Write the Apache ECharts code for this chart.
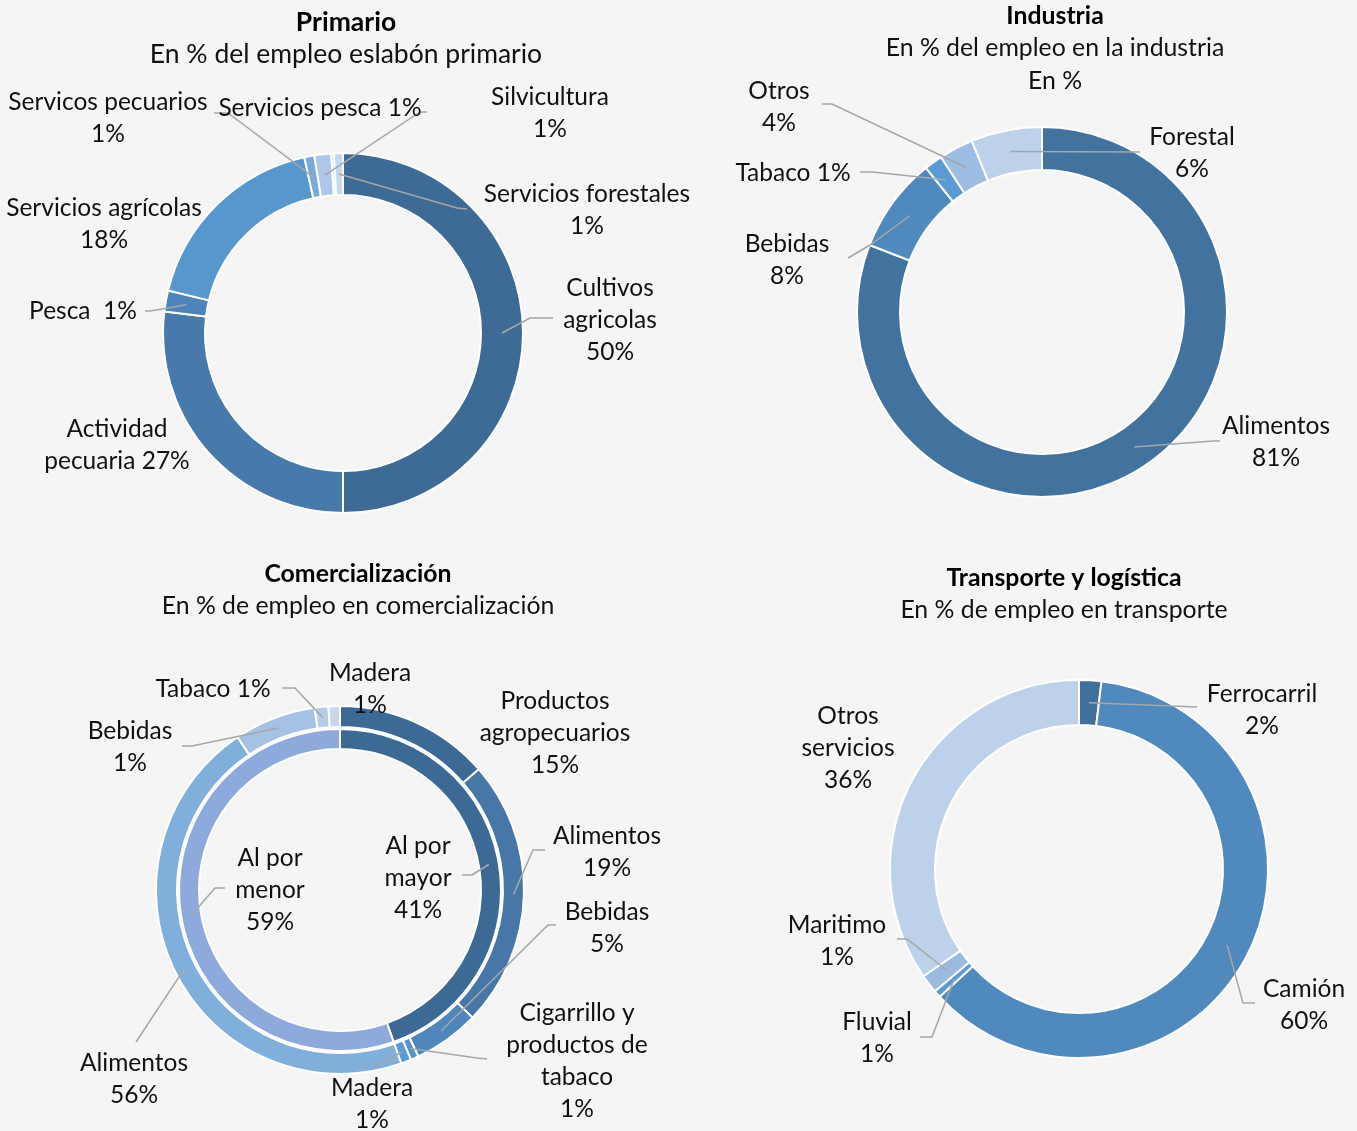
<!DOCTYPE html>
<html>
<head>
<meta charset="utf-8">
<title>Empleo por eslabón</title>
<script src="https://cdn.jsdelivr.net/npm/echarts@6/dist/echarts.min.js"></script>
<style>
    html, body { margin: 0; padding: 0; background: #f5f5f5; }
    #main { width: 1357px; height: 1131px; }
</style>
</head>
<body>
<div id="main"></div>
<script>
// Primario
var primNames = ['Cultivos agricolas', 'Actividad pecuaria', 'Pesca', 'Servicios agrícolas', 'Servicos pecuarios', 'Servicios pesca', 'Silvicultura', 'Servicios forestales'];
var primValues = [50.0, 26.9, 1.9, 17.75, 0.9, 1.5, 0.25, 0.8];
var primLabels = ['Cultivos\nagricolas\n50%', 'Actividad\npecuaria 27%', 'Pesca  1%', 'Servicios agrícolas\n18%', 'Servicos pecuarios\n1%', 'Servicios pesca 1%', 'Silvicultura\n1%', 'Servicios forestales\n1%'];

// Industria
var indNames = ['Alimentos', 'Bebidas', 'Tabaco', 'Otros', 'Forestal'];
var indValues = [80.9, 8.3, 1.6, 3.0, 6.2];
var indLabels = ['Alimentos\n81%', 'Bebidas\n8%', 'Tabaco 1%', 'Otros\n4%', 'Forestal\n6%'];

// Comercialización (anillo interior y exterior)
var comInNames = ['Al por mayor', 'Al por menor'];
var comInValues = [44.6, 55.4];
var comInLabels = ['Al por\nmayor\n41%', 'Al por\nmenor\n59%'];
var comOutNames = ['Productos agropecuarios', 'Alimentos', 'Bebidas', 'Cigarrillo y productos de tabaco', 'Madera', 'Alimentos', 'Bebidas', 'Tabaco', 'Madera'];
var comOutValues = [13.6, 23.6, 5.8, 0.7, 0.9, 46.0, 7.2, 1.2, 1.0];
var comOutLabels = ['Productos\nagropecuarios\n15%', 'Alimentos\n19%', 'Bebidas\n5%', 'Cigarrillo y\nproductos de\ntabaco\n1%', 'Madera\n1%', 'Alimentos\n56%', 'Bebidas\n1%', 'Tabaco 1%', 'Madera\n1%'];

// Transporte y logística
var traNames = ['Ferrocarril', 'Camión', 'Fluvial', 'Maritimo', 'Otros servicios'];
var traValues = [1.9, 61.3, 0.6, 1.6, 34.6];
var traLabels = ['Ferrocarril\n2%', 'Camión\n60%', 'Fluvial\n1%', 'Maritimo\n1%', 'Otros\nservicios\n36%'];

// colores por porción
var primColors = ['#3e6b96', '#477aab', '#4a84bb', '#5697cd', '#7aaad9', '#aec7e8', '#b9cfeb', '#c6d7ee'];
var indColors = ['#42739f', '#4f89bd', '#5b9bd5', '#9dbde3', '#bdd1ea'];
var comInColors = ['#3d6a94', '#8eaadc'];
var comOutColors = ['#3d6a94', '#4677a7', '#4e86bd', '#5693cb', '#5b9bd5', '#80afdc', '#a5c1e3', '#b4cce9', '#c6d7ee'];
var traColors = ['#41709c', '#4f89bd', '#5b9bd5', '#9cbae0', '#bdd1ea'];

// posición de cada etiqueta [x, y, puntos de la guía]
var primSpots = [
    [610, 320, [[530, 318], [553, 318]]],
    [117, 445, null],
    [83, 311, [[150, 311], [145, 311]]],
    [104, 224, null],
    [108, 118, [[228, 113], [214, 113]]],
    [320, 108, [[420, 112], [427, 112]]],
    [550, 113, null],
    [587, 210, [[457, 208], [467, 209]]]
];
var indSpots = [
    [1276, 442, [[1213, 441], [1220, 441]]],
    [787, 260, [[870, 245], [848, 258]]],
    [793, 173, [[872, 172], [860, 172]]],
    [779, 107, [[832, 104], [822, 104]]],
    [1192, 153, [[1140, 152]]]
];
var comInSpots = [
    [418, 878, [[472, 875], [462, 875]]],
    [270, 890, [[215, 888], [225, 888]]]
];
var comOutSpots = [
    [555, 733, null],
    [607, 852, [[533, 850], [545, 850]]],
    [607, 928, [[548, 925], [556, 925]]],
    [577, 1061, [[477, 1058], [487, 1059]]],
    [372, 1104, [[373, 1067]]],
    [134, 1079, [[136, 1042]]],
    [130, 747, [[192, 746], [182, 746]]],
    [213, 689, [[295, 688], [282, 688]]],
    [370, 689, null]
];
var traSpots = [
    [1262, 710, [[1197, 707]]],
    [1304, 1005, [[1243, 1003], [1255, 1003]]],
    [877, 1038, [[932, 1037], [920, 1037]]],
    [837, 941, [[907, 939], [897, 939]]],
    [848, 748, null]
];

var font = 'Lato, "Open Sans", sans-serif';

function pieLayout(cx, cy, rMid, values, spots) {
    var total = values.reduce(function (a, b) { return a + b; }, 0);
    return function (p) {
        var s = spots[p.dataIndex];
        var before = 0;
        for (var k = 0; k < p.dataIndex; k++) before += values[k];
        var a = (before + values[p.dataIndex] / 2) / total * Math.PI * 2;
        var out = { x: s[0], y: s[1], align: 'center', verticalAlign: 'middle' };
        if (s[2]) {
            out.labelLinePoints = [[cx + rMid * Math.sin(a), cy - rMid * Math.cos(a)]].concat(s[2]);
        }
        return out;
    };
}

// anillo de color + capa transparente encima con etiquetas y guías
function pieSeries(cx, cy, r0, r1, names, values, labels, colors, spots) {
    var ring = {
        type: 'pie',
        center: [cx, cy],
        radius: [r0, r1],
        startAngle: 90,
        clockwise: true,
        animation: false,
        silent: true,
        z: 2,
        itemStyle: { borderColor: '#ffffff', borderWidth: 2 },
        label: { show: false },
        labelLine: { show: false },
        data: names.map(function (n, i) {
            return { name: n, value: values[i], itemStyle: { color: colors[i] } };
        })
    };
    var text = {
        type: 'pie',
        center: [cx, cy],
        radius: [r0, r1],
        startAngle: 90,
        clockwise: true,
        avoidLabelOverlap: false,
        animation: false,
        silent: true,
        z: 4,
        itemStyle: { color: 'rgba(0,0,0,0)', borderWidth: 0 },
        label: {
            show: true,
            position: 'outside',
            color: '#111111',
            fontFamily: font,
            fontSize: 24.5,
            lineHeight: 32,
            align: 'center'
        },
        labelLine: {
            show: true,
            lineStyle: { color: '#a6a6a6', width: 1.5 }
        },
        labelLayout: pieLayout(cx, cy, (r0 + r1) / 2, values, spots),
        data: names.map(function (n, i) {
            return {
                name: n,
                value: values[i],
                label: { formatter: labels[i] },
                labelLine: { show: !!spots[i][2] }
            };
        })
    };
    return [ring, text];
}

function title(text, sub, x, top, size) {
    return {
        text: text,
        subtext: sub,
        left: x,
        top: top,
        textAlign: 'center',
        itemGap: 0,
        padding: 0,
        textStyle: { fontFamily: font, fontSize: size, fontWeight: 'bold', color: '#000', lineHeight: 32 },
        subtextStyle: { fontFamily: font, fontSize: size, color: '#111', lineHeight: 33 }
    };
}

var chart = echarts.init(document.getElementById('main'));
var option = {
    backgroundColor: '#f5f5f5',
    title: [
        title('Primario', 'En % del empleo eslabón primario', 346, 6, 26.5),
        title('Industria', 'En % del empleo en la industria\nEn %', 1055, 0, 24.8),
        title('Comercialización', 'En % de empleo en comercialización', 358, 558, 24.8),
        title('Transporte y logística', 'En % de empleo en transporte', 1064, 562, 24.8)
    ],
    series: [].concat(
        pieSeries(343, 333, 138, 180, primNames, primValues, primLabels, primColors, primSpots),
        pieSeries(1042, 312, 142, 185, indNames, indValues, indLabels, indColors, indSpots),
        pieSeries(340, 890, 141, 161, comInNames, comInValues, comInLabels, comInColors, comInSpots),
        pieSeries(340, 890, 163, 184, comOutNames, comOutValues, comOutLabels, comOutColors, comOutSpots),
        pieSeries(1079, 869, 144, 189, traNames, traValues, traLabels, traColors, traSpots)
    )
};
chart.setOption(option);
</script>
</body>
</html>
